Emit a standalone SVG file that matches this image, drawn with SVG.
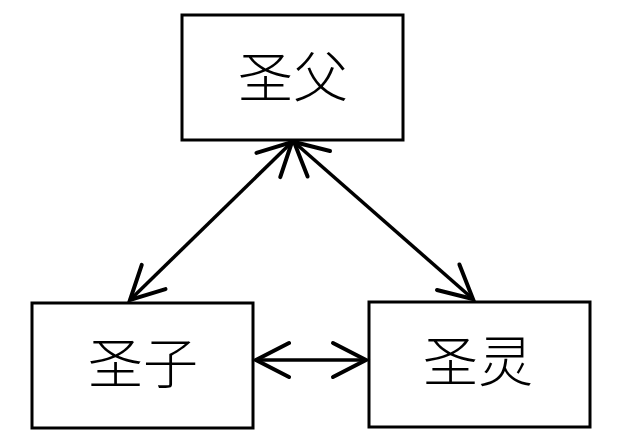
<svg xmlns="http://www.w3.org/2000/svg" width="618" height="445" viewBox="0 0 618 445">
<style>
.box{fill:#fff;stroke:#000;stroke-width:3}
.lbl{font-family:"Noto Sans CJK SC","Noto Sans",sans-serif;font-size:55px;font-weight:300;fill:#000;text-anchor:middle;dominant-baseline:central}
.conn{stroke:#000;stroke-width:3.5;fill:none;marker-start:url(#ah);marker-end:url(#ah)}
</style>
<defs>
<marker id="ah" viewBox="-40 -20 42 40" refX="0" refY="0" markerWidth="42" markerHeight="40" markerUnits="userSpaceOnUse" orient="auto-start-reverse" overflow="visible">
<path d="M-33,-17 L0,0 L-33,17" stroke="#000" stroke-width="4" fill="none" stroke-linecap="round" stroke-linejoin="miter"/>
</marker>
</defs>
<g id="father"><rect class="box" x="182" y="15" width="221" height="125"/><text class="lbl" x="293" y="73">圣父</text></g>
<g id="son"><rect class="box" x="32" y="303" width="221" height="125"/><text class="lbl" x="143" y="359">圣子</text></g>
<g id="spirit"><rect class="box" x="369" y="302" width="221" height="125"/><text class="lbl" x="478" y="357">圣灵</text></g>
<g id="connectors">
<line class="conn" x1="292" y1="142" x2="130" y2="300"/>
<line class="conn" x1="294" y1="142" x2="473" y2="299"/>
<line class="conn" x1="256" y1="360" x2="366" y2="360"/>
</g>
</svg>
